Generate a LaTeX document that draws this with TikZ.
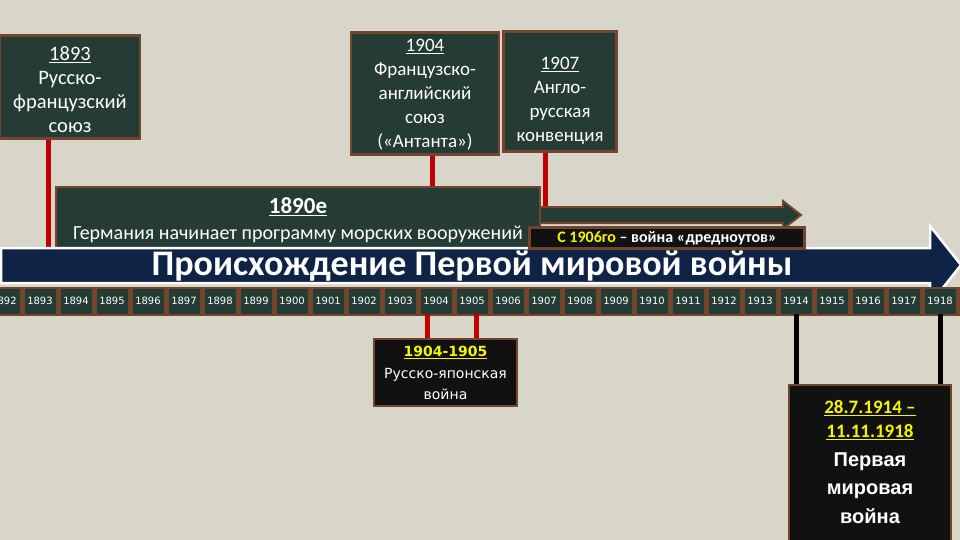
\documentclass[tikz,border=0pt]{standalone}
\usepackage{fontspec}
\setmainfont{Carlito}
\newfontfamily\dv{DejaVu Sans}
\newfontfamily\lib{Liberation Sans}
\usetikzlibrary{calc}
\definecolor{bg}{HTML}{D8D5C9}
\definecolor{dgreen}{HTML}{253B35}
\definecolor{brownb}{HTML}{74452D}
\definecolor{navy}{HTML}{0E2346}
\definecolor{redl}{HTML}{C00000}
\definecolor{ylw}{HTML}{F5F500}
\definecolor{blk}{HTML}{111111}
\tikzset{
  gbox/.style={draw=brownb,line width=2.5pt,fill=dgreen,inner sep=0pt},
  kbox/.style={draw=brownb,line width=2.5pt,fill=blk,inner sep=0pt},
  txt/.style={text=white,align=center,inner sep=0pt,font=\fontsize{19}{24}\selectfont},
  redline/.style={draw=redl,line width=5pt},
  blkline/.style={draw=black,line width=5pt},
  yearbox/.style={fill=dgreen,inner sep=0pt,minimum width=31pt,minimum height=25pt,text=white,font=\dv\fontsize{10}{11}\selectfont},
}
\begin{document}
\begin{tikzpicture}[x=1pt,y=-1pt]
\useasboundingbox (0,0) rectangle (960,540);
\fill[bg] (0,0) rectangle (960,540);
% coordinates
\coordinate (mainTop) at (480,249);
\coordinate (arrTop) at (660,208);
% top boxes
\node[gbox,minimum width=140pt,minimum height=103pt] (b1893) at (70,87) {};
\node[txt,font=\fontsize{20.5}{24}\selectfont] (t1893) at (70,90) {\underline{1893}\\Русско-\\французский\\союз};
\node[gbox,minimum width=148pt,minimum height=122pt] (b1904) at (425,93.5) {};
\node[txt] (t1904) at (425,95) {\underline{1904}\\Французско-\\английский\\союз\\(«Антанта»)};
\node[gbox,minimum width=113pt,minimum height=120pt] (b1907) at (560,91.5) {};
\node[txt] (t1907) at (560,101) {\underline{1907}\\Англо-\\русская\\конвенция};
% red connectors top
\draw[redline] ([xshift=-22pt]b1893.south) -- ([xshift=-22pt]b1893.south |- mainTop);
\draw[redline] ([xshift=7pt]b1904.south) -- ([xshift=7pt,yshift=-3pt]b1904.south |- arrTop);
\draw[redline] ([xshift=-15pt]b1907.south) -- ([xshift=-15pt]b1907.south |- arrTop);
% thin arrow
\draw[brownb,line width=2pt,fill=dgreen] (536,207) -- (783,207) -- (783,201) -- (801,215) -- (783,229) -- (783,223) -- (536,223) -- cycle;
% 1890e box
\node[gbox,minimum width=484pt,minimum height=70pt] (b1890) at (298,222) {};
\node[txt,font=\bfseries\fontsize{23}{26}\selectfont] (t1890) at (298,207) {\underline{1890е}};
\node[txt,font=\fontsize{20}{22}\selectfont] (tgerm) at (298,234) {Германия начинает программу морских вооружений};
% main arrow
\draw[white,line width=2.5pt,fill=navy] (1,248) -- (930,248) -- (930,226) -- (961,265) -- (930,304) -- (930,283) -- (1,283) -- cycle;
\node[txt,font=\bfseries\fontsize{36}{38}\selectfont] (title) at (472,266) {Происхождение Первой мировой войны};
% 1906 box
\node[kbox,minimum width=275pt,minimum height=21pt,text=white,font=\bfseries\fontsize{16}{17}\selectfont] (b1906) at (667,238) {{\color{ylw}С 1906го} – война «дредноутов»};
% year strip
\fill[brownb] (0,286.5) rectangle (960,315.5);
\foreach \yr [count=\i from 0] in {1892,...,1918}
  \node[yearbox] (y\yr) at (4+36*\i,301) {\yr};
% bottom 1904-1905
\node[kbox,minimum width=143pt,minimum height=67pt] (b0405) at (445.5,372.5) {};
\draw[redline] ([xshift=-9pt]y1904.south) -- ([xshift=-9pt]y1904.south |- b0405.north);
\draw[redline] ([xshift=4pt]y1905.south) -- ([xshift=4pt]y1905.south |- b0405.north);
\node[txt,font=\dv\fontsize{14}{21.5}\selectfont] (t0405) at (445.5,373) {{\color{ylw}\bfseries\underline{1904-1905}}\\Русско-японская\\война};
% WWI box
\node[kbox,minimum width=162pt,minimum height=160pt] (bwwi) at (870,465) {};
\draw[blkline] (y1914.south) -- (y1914.south |- bwwi.north);
\draw[blkline] (y1918.south) -- (y1918.south |- bwwi.north);
\node[txt,font=\bfseries\fontsize{19}{24}\selectfont,text=ylw] (twd) at (870,420) {\underline{28.7.1914 –}\\\underline{11.11.1918}};
\node[txt,font=\lib\bfseries\fontsize{20}{28.5}\selectfont] (twt) at (870,488) {Первая\\мировая\\война};
\end{tikzpicture}
\end{document}
